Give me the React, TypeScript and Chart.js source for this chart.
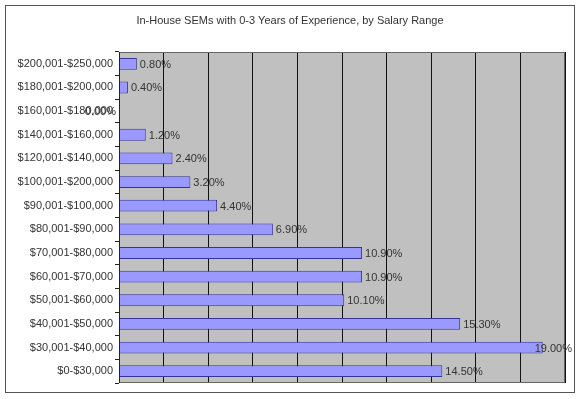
import React, { useEffect, useRef } from "react";
import { Chart, registerables } from "chart.js";

Chart.register(...registerables);

const categories = [
  "$200,001-$250,000",
  "$180,001-$200,000",
  "$160,001-$180,000",
  "$140,001-$160,000",
  "$120,001-$140,000",
  "$100,001-$200,000",
  "$90,001-$100,000",
  "$80,001-$90,000",
  "$70,001-$80,000",
  "$60,001-$70,000",
  "$50,001-$60,000",
  "$40,001-$50,000",
  "$30,001-$40,000",
  "$0-$30,000",
];
const values = [0.8, 0.4, 0.0, 1.2, 2.4, 3.2, 4.4, 6.9, 10.9, 10.9, 10.1, 15.3, 19.0, 14.5];
const titleText = "In-House SEMs with 0-3 Years of Experience, by Salary Range";
const xMax = 20;
const xStep = 2;

const FONT = "'Liberation Sans', Arial, sans-serif";

const decorPlugin = {
  id: "decor",
  beforeDraw(chart: any) {
    const { ctx, chartArea } = chart;
    ctx.save();
    ctx.fillStyle = "#ffffff";
    ctx.fillRect(0, 0, chart.width, chart.height);
    ctx.strokeStyle = "#555555";
    ctx.lineWidth = 1;
    ctx.strokeRect(5.5, 5.5, 569, 387);
    ctx.fillStyle = "#c0c0c0";
    ctx.fillRect(chartArea.left, chartArea.top, chartArea.right - chartArea.left, chartArea.bottom - chartArea.top);
    ctx.fillStyle = "#333333";
    ctx.font = `11px ${FONT}`;
    ctx.textAlign = "center";
    ctx.textBaseline = "middle";
    ctx.fillText(titleText, 290, 21);
    ctx.restore();
  },
  afterDatasetsDraw(chart: any) {
    const { ctx, chartArea } = chart;
    ctx.save();
    ctx.strokeStyle = "#666666";
    ctx.lineWidth = 1;
    ctx.strokeRect(chartArea.left + 0.5, chartArea.top + 0.5, chartArea.right - chartArea.left - 1, chartArea.bottom - chartArea.top - 1);
    ctx.beginPath();
    ctx.strokeStyle = "#222222";
    ctx.moveTo(chartArea.left + 0.5, chartArea.top);
    ctx.lineTo(chartArea.left + 0.5, chartArea.bottom);
    ctx.stroke();
    const meta = chart.getDatasetMeta(0);
    ctx.font = `11px ${FONT}`;
    ctx.fillStyle = "#333333";
    ctx.textBaseline = "middle";
    meta.data.forEach((bar: any, i: number) => {
      const v = values[i];
      const txt = v.toFixed(2) + "%";
      const w = ctx.measureText(txt).width;
      let x: number;
      if (v === 0) {
        x = chartArea.left - 3 - w;
      } else {
        x = Math.min(bar.x + 3, 572 - w);
      }
      ctx.textAlign = "left";
      ctx.fillText(txt, x, bar.y + 1);
    });
    ctx.restore();
  },
};

export default function App() {
  const ref = useRef<HTMLCanvasElement>(null);
  useEffect(() => {
    document.body.style.margin = "0";
    const chart = new Chart(ref.current as HTMLCanvasElement, {
      type: "bar",
      data: {
        labels: categories,
        datasets: [
          {
            data: values,
            backgroundColor: "#9999ff",
            borderColor: "#333399",
            borderWidth: 1,
            barPercentage: 0.5,
            categoryPercentage: 1,
          },
        ],
      },
      options: {
        indexAxis: "y",
        animation: false,
        responsive: false,
        layout: { padding: { left: 0, right: 15, top: 52, bottom: 16 } },
        plugins: {
          legend: { display: false },
          title: { display: false },
          tooltip: { enabled: false },
        },
        scales: {
          x: {
            min: 0,
            max: xMax,
            ticks: { display: false, stepSize: xStep },
            grid: { color: "#111111", drawTicks: false, lineWidth: 1 },
            border: { display: false },
            afterFit(scale: any) {
              scale.height = 0;
            },
          },
          y: {
            offset: true,
            ticks: {
              color: "#333333",
              font: { family: FONT, size: 11 },
              padding: 2,
              autoSkip: false,
            },
            grid: {
              offset: true,
              drawOnChartArea: false,
              tickLength: 4,
              color: "#222222",
            },
            border: { display: false },
            afterFit(scale: any) {
              scale.width = 119;
            },
          },
        },
      },
      plugins: [decorPlugin],
    });
    return () => chart.destroy();
  }, []);
  return <canvas ref={ref} width={580} height={399} style={{ display: "block" }} />;
}
